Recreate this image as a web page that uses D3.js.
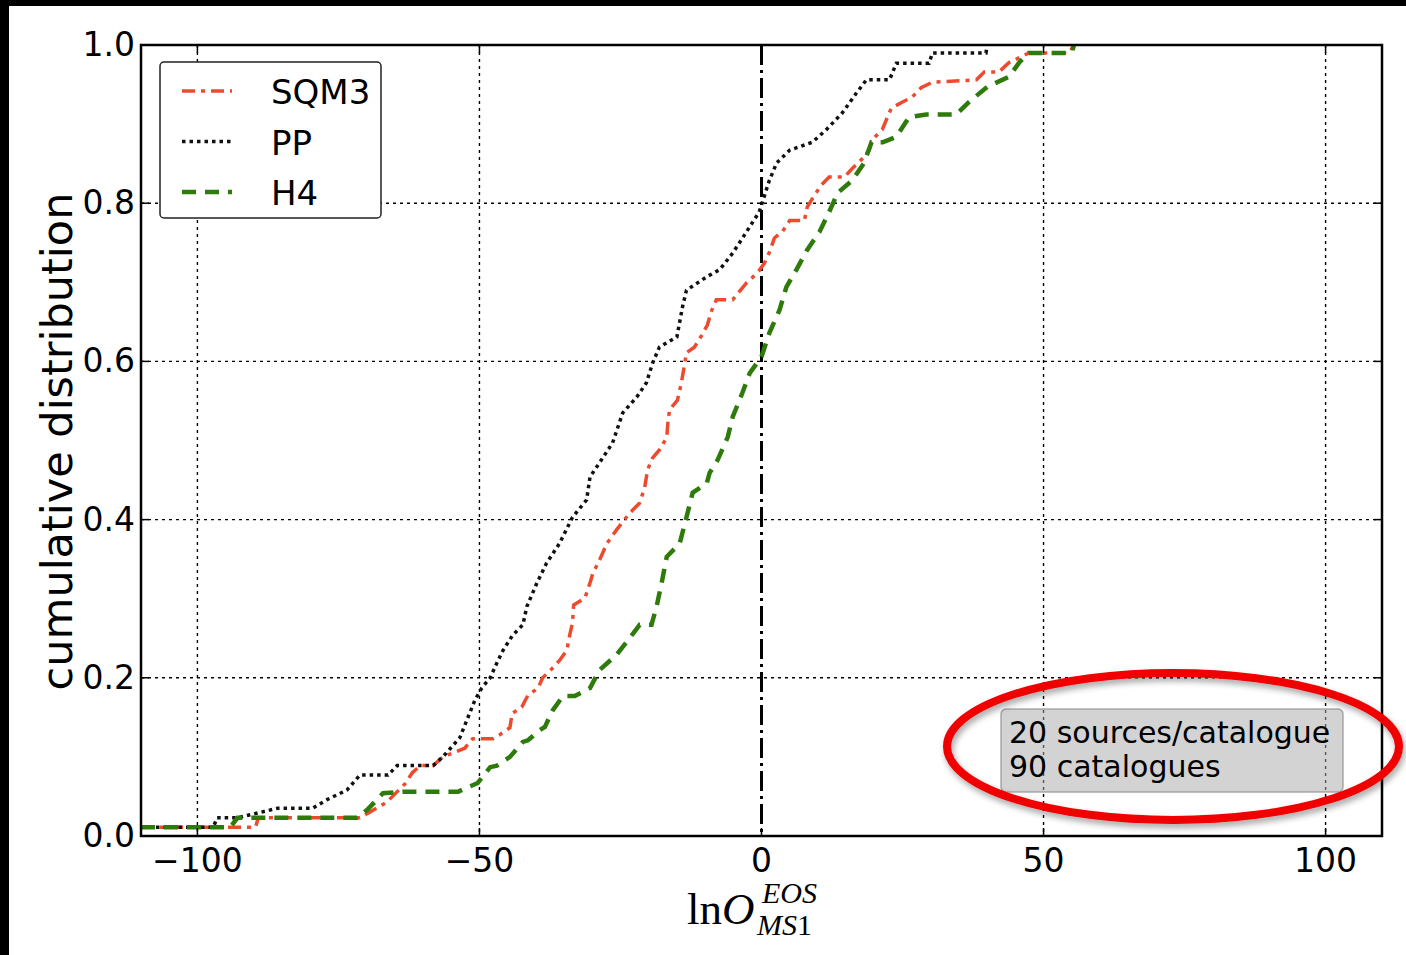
<!DOCTYPE html>
<html lang="en">
<head>
<meta charset="UTF-8">
<title>Cumulative distribution of lnO</title>
<script src="https://d3js.org/d3.v7.min.js"></script>
<style>
  body { margin: 0; background: #000; }
  svg { display: block; font-family: "DejaVu Sans", sans-serif; }
</style>
</head>
<body>
<div id="chart"></div>
<script>
// ticks
var xTicks = [-100, -50, 0, 50, 100];
var yTicks = [0, 0.2, 0.4, 0.6, 0.8, 1.0];

// series names (legend order)
var seriesNames = ["SQM3", "PP", "H4"];

// [lnO, cumulative fraction]
var sqm3Points = [[-110,0.011],[-89.7,0.011],[-89.2,0.023],[-71.2,0.023],[-69.7,0.029],[-66.4,0.043],[-63.2,0.066],[-61.9,0.08],[-60.5,0.089],[-58.2,0.089],[-56.5,0.1],[-52.6,0.111],[-51.2,0.123],[-47.6,0.123],[-46.4,0.128],[-44.6,0.137],[-44.2,0.155],[-42.5,0.163],[-41.4,0.178],[-39.6,0.187],[-38.8,0.2],[-37.2,0.211],[-35.8,0.222],[-34.5,0.235],[-34.0,0.254],[-33.5,0.27],[-33.3,0.292],[-31.3,0.301],[-30.4,0.32],[-29.9,0.332],[-28.7,0.349],[-27.4,0.37],[-25.7,0.387],[-23.4,0.408],[-21.6,0.421],[-20.7,0.441],[-20.2,0.463],[-19.3,0.478],[-18.1,0.488],[-16.8,0.504],[-16.6,0.522],[-16.3,0.539],[-14.9,0.551],[-14.2,0.573],[-13.6,0.598],[-13.3,0.611],[-11.9,0.618],[-10.6,0.633],[-9.6,0.646],[-8.8,0.665],[-8.0,0.678],[-5.1,0.678],[-2.7,0.699],[-0.7,0.712],[0.5,0.724],[1.4,0.738],[2.3,0.756],[3.7,0.764],[5.0,0.778],[7.6,0.778],[8.1,0.795],[9.4,0.81],[10.6,0.823],[12.0,0.833],[14.7,0.833],[16.1,0.844],[17.7,0.855],[19.1,0.867],[19.6,0.88],[21.4,0.893],[23.0,0.92],[25.0,0.928],[26.7,0.934],[28.3,0.946],[30.3,0.953],[38.1,0.956],[39.5,0.966],[42.1,0.966],[43.9,0.978],[45.7,0.984],[47.4,0.99],[54.5,0.99],[55.4,1.0]];

var ppPoints = [[-110,0.011],[-97.2,0.011],[-96.5,0.023],[-92.9,0.023],[-85.8,0.035],[-79.6,0.035],[-77.0,0.046],[-73.5,0.058],[-71.2,0.077],[-66.2,0.077],[-64.6,0.089],[-58.2,0.089],[-56.5,0.1],[-53.5,0.124],[-52.2,0.147],[-50.8,0.172],[-49.6,0.187],[-48.1,0.2],[-46.9,0.219],[-45.8,0.235],[-44.1,0.254],[-42.3,0.267],[-41.6,0.29],[-39.8,0.32],[-38.1,0.345],[-35.8,0.37],[-33.5,0.403],[-31.0,0.425],[-30.4,0.454],[-28.7,0.472],[-26.4,0.497],[-24.6,0.535],[-22.1,0.555],[-20.4,0.573],[-19.3,0.598],[-18.1,0.618],[-15.0,0.631],[-14.0,0.669],[-13.3,0.69],[-9.7,0.707],[-7.4,0.716],[-5.1,0.737],[-3.9,0.75],[-0.4,0.789],[1.4,0.829],[2.7,0.851],[5.0,0.867],[9.0,0.877],[11.5,0.893],[14.3,0.914],[16.8,0.939],[18.6,0.956],[22.7,0.956],[23.9,0.977],[29.7,0.977],[30.3,0.99],[39.8,0.99],[40.0,1.0]];

var h4Points = [[-110,0.011],[-94.2,0.011],[-92.9,0.023],[-71.7,0.023],[-69.9,0.033],[-67.1,0.054],[-63.5,0.056],[-53.8,0.056],[-50.3,0.067],[-48.1,0.087],[-46.9,0.089],[-44.6,0.1],[-42.3,0.119],[-41.4,0.121],[-39.3,0.134],[-38.4,0.138],[-37.0,0.159],[-36.3,0.166],[-35.2,0.177],[-33.1,0.177],[-30.4,0.187],[-28.7,0.21],[-25.7,0.229],[-23.4,0.25],[-21.6,0.267],[-19.5,0.267],[-18.6,0.29],[-17.7,0.32],[-16.8,0.353],[-14.5,0.37],[-13.3,0.403],[-12.2,0.434],[-9.7,0.446],[-9.2,0.459],[-7.8,0.475],[-6.0,0.504],[-5.1,0.53],[-3.4,0.56],[-2.1,0.585],[0,0.606],[1.4,0.636],[3.2,0.665],[4.4,0.694],[6.2,0.716],[8.1,0.741],[10.3,0.764],[12.0,0.789],[13.5,0.813],[16.1,0.829],[18.2,0.851],[19.5,0.877],[21.5,0.877],[23.9,0.884],[26.2,0.909],[29.2,0.912],[34.5,0.912],[36.8,0.928],[40.0,0.947],[43.9,0.96],[45.7,0.978],[47.4,0.99],[55.0,0.99],[55.4,1.0]];

var noteLines = ["20 sources/catalogue", "90 catalogues"];

var series = [
    { name: seriesNames[0], points: sqm3Points, color: "#ee4a2e", width: 3.5, dash: "13,6,4,6" },
    { name: seriesNames[1], points: ppPoints, color: "#111111", width: 3.5, dash: "3.5,4" },
    { name: seriesNames[2], points: h4Points, color: "#2e7b0c", width: 4.5, dash: "14,9" }
];

var W = 1406, H = 955;
var svg = d3.select("#chart").append("svg")
    .attr("width", W)
    .attr("height", H);

// black border of the screenshot
svg.append("rect").attr("width", W).attr("height", H).attr("fill", "#000");
svg.append("rect").attr("x", 9).attr("y", 6).attr("width", W - 9).attr("height", H - 6).attr("fill", "#fff");

// plot area (pixels)
var pL = 141, pR = 1382, pT = 45, pB = 836;
var x = d3.scaleLinear().domain([-110, 110]).range([pL, pR]);
var y = d3.scaleLinear().domain([0, 1]).range([pB, pT]);

var defs = svg.append("defs");
defs.append("clipPath").attr("id", "plotclip")
    .append("rect").attr("x", pL).attr("y", pT)
    .attr("width", pR - pL).attr("height", pB - pT);
var shadow = defs.append("filter").attr("id", "shadow")
    .attr("x", "-10%").attr("y", "-20%").attr("width", "120%").attr("height", "150%");
shadow.append("feDropShadow").attr("dx", 2).attr("dy", 4)
    .attr("stdDeviation", 3).attr("flood-color", "#000").attr("flood-opacity", 0.35);

// grid
var grid = svg.append("g");
grid.selectAll(".vgrid").data(xTicks.filter(function(d) { return d !== 0; }))
    .enter().append("line")
    .attr("x1", function(d) { return x(d); }).attr("x2", function(d) { return x(d); })
    .attr("y1", pT).attr("y2", pB)
    .attr("stroke", "#000").attr("stroke-width", 1.4).attr("stroke-dasharray", "3,4");
grid.selectAll(".hgrid").data(yTicks.filter(function(d) { return d > 0 && d < 1; }))
    .enter().append("line")
    .attr("x1", pL).attr("x2", pR)
    .attr("y1", function(d) { return y(d); }).attr("y2", function(d) { return y(d); })
    .attr("stroke", "#000").attr("stroke-width", 1.4).attr("stroke-dasharray", "3,4");

// vertical dash-dot line at zero
svg.append("line")
    .attr("x1", x(0)).attr("x2", x(0)).attr("y1", pT).attr("y2", pB)
    .attr("stroke", "#000").attr("stroke-width", 3).attr("stroke-dasharray", "20,5,3,5");

// curves
var line = d3.line()
    .x(function(d) { return x(d[0]); })
    .y(function(d) { return y(d[1]); });

svg.append("g").attr("clip-path", "url(#plotclip)")
    .selectAll("path").data(series).enter().append("path")
    .attr("d", function(d) { return line(d.points); })
    .attr("fill", "none")
    .attr("stroke", function(d) { return d.color; })
    .attr("stroke-width", function(d) { return d.width; })
    .attr("stroke-dasharray", function(d) { return d.dash; });

// frame
svg.append("rect")
    .attr("x", pL).attr("y", pT).attr("width", pR - pL).attr("height", pB - pT)
    .attr("fill", "none").attr("stroke", "#000").attr("stroke-width", 2.5);

// inward ticks on all four sides
var ticks = svg.append("g").attr("stroke", "#000").attr("stroke-width", 1.5);
xTicks.forEach(function(t) {
    ticks.append("line").attr("x1", x(t)).attr("x2", x(t)).attr("y1", pB).attr("y2", pB - 8);
    ticks.append("line").attr("x1", x(t)).attr("x2", x(t)).attr("y1", pT).attr("y2", pT + 8);
});
yTicks.forEach(function(t) {
    ticks.append("line").attr("x1", pL).attr("x2", pL + 8).attr("y1", y(t)).attr("y2", y(t));
    ticks.append("line").attr("x1", pR).attr("x2", pR - 8).attr("y1", y(t)).attr("y2", y(t));
});

// tick labels
var fmtX = d3.format("d");
svg.selectAll(".xlab").data(xTicks).enter().append("text")
    .attr("x", function(d) { return x(d); })
    .attr("y", pB + 36)
    .attr("text-anchor", "middle")
    .attr("font-size", 33)
    .text(function(d) { return fmtX(d); });
svg.selectAll(".ylab").data(yTicks).enter().append("text")
    .attr("x", pL - 6)
    .attr("y", function(d) { return y(d) + 11; })
    .attr("text-anchor", "end")
    .attr("font-size", 33)
    .text(function(d) { return d3.format(".1f")(d); });

// axis titles
svg.append("text")
    .attr("transform", "translate(72," + ((pT + pB) / 2 + 1) + ") rotate(-90)")
    .attr("text-anchor", "middle")
    .attr("font-size", 43)
    .text("cumulative distribution");

var xt = svg.append("g").attr("font-family", "'Liberation Serif', 'DejaVu Serif', serif");
var main = xt.append("text").attr("x", 687).attr("y", 924).attr("font-size", 45);
main.append("tspan").text("ln");
main.append("tspan").attr("font-style", "italic").text("O");
xt.append("text").attr("x", 762).attr("y", 903).attr("font-size", 30)
    .attr("font-style", "italic").text("EOS");
var sub = xt.append("text").attr("x", 757).attr("y", 935).attr("font-size", 30);
sub.append("tspan").attr("font-style", "italic").text("MS");
sub.append("tspan").text("1");

// legend
var lg = svg.append("g");
lg.append("rect")
    .attr("x", 160).attr("y", 62).attr("width", 221).attr("height", 156)
    .attr("rx", 4).attr("fill", "#fff").attr("stroke", "#222").attr("stroke-width", 1.5);
series.forEach(function(s, i) {
    var ly = 91 + i * 50.5;
    lg.append("line")
        .attr("x1", 182).attr("x2", 232).attr("y1", ly).attr("y2", ly)
        .attr("stroke", s.color).attr("stroke-width", s.width)
        .attr("stroke-dasharray", s.dash);
    lg.append("text")
        .attr("x", 271).attr("y", ly + 13)
        .attr("font-size", 34)
        .text(s.name);
});

// annotation box
var note = svg.append("g");
note.append("rect")
    .attr("x", 1001).attr("y", 709).attr("width", 342).attr("height", 83)
    .attr("rx", 5).attr("fill", "rgba(168,168,168,0.5)")
    .attr("stroke", "rgba(150,150,150,0.8)").attr("stroke-width", 1.5);
note.selectAll("text").data(noteLines).enter().append("text")
    .attr("x", 1009)
    .attr("y", function(d, i) { return 743 + i * 34; })
    .attr("font-size", 30)
    .text(function(d) { return d; });

// red highlight ellipse
svg.append("ellipse")
    .attr("cx", 1173).attr("cy", 746.5).attr("rx", 226).attr("ry", 73.5)
    .attr("fill", "none").attr("stroke", "#f00000").attr("stroke-width", 8)
    .attr("filter", "url(#shadow)");
</script>
</body>
</html>
